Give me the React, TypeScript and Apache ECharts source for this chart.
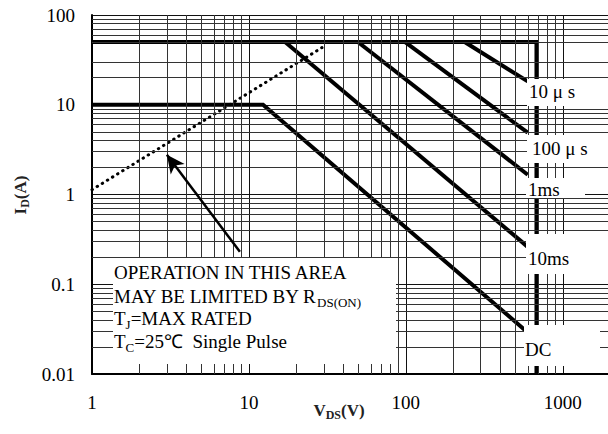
import { useEffect, useRef } from 'react';
import * as echarts from 'echarts';

// Minor grid positions (log decades)
const xMinorTicks = [2, 3, 4, 5, 6, 7, 8, 9, 20, 30, 40, 50, 60, 70, 80, 90, 200, 300, 400, 500, 600, 700, 800, 900];
const yMinorTicks = [
  0.02, 0.03, 0.04, 0.05, 0.06, 0.07, 0.08, 0.09,
  0.2, 0.3, 0.4, 0.5, 0.6, 0.7, 0.8, 0.9,
  2, 3, 4, 5, 6, 7, 8, 9,
  20, 30, 50, 60, 70, 80, 90,
];

// Safe operating area boundaries [VDS (V), ID (A)]
const idPulseLimit = [[1, 50], [680, 50], [680, 0.01]];
const line10us = [[237, 50], [598, 18.2]];
const line100us = [[99, 50], [598, 4.88]];
const line1ms = [[49.5, 50], [598, 1.66]];
const line10ms = [[17, 50], [598, 0.261]];
const lineDC = [[1, 10], [12.3, 10], [573, 0.031]];
const rdsOnLimit = [[1, 1.13], [29.2, 43.3]];
const arrowLine = [[8.76, 0.23], [3.0, 2.77]];

const SERIF = '"Liberation Serif", "Times New Roman", serif';

function thick(name: string, data: number[][]) {
  return {
    name,
    type: 'line',
    data,
    symbol: 'none',
    showSymbol: false,
    silent: true,
    z: 3,
    lineStyle: { color: '#000', width: 4, join: 'miter' },
  };
}

function box(x: number, y: number, w: number, h: number) {
  return { type: 'rect', z: 100, shape: { x, y, width: w, height: h }, style: { fill: '#fff' } };
}

function label(x: number, y: number, text: string) {
  return {
    type: 'text',
    z: 101,
    x,
    y,
    style: { text, fontFamily: SERIF, fontSize: 19, fill: '#000', verticalAlign: 'middle', align: 'left' },
  };
}

function richLine(x: number, y: number, text: string) {
  return {
    type: 'text',
    z: 101,
    x,
    y,
    style: {
      text,
      fill: '#000',
      verticalAlign: 'middle',
      align: 'left',
      rich: {
        a: { fontFamily: SERIF, fontSize: 19, fill: '#000', lineHeight: 26, verticalAlign: 'middle' },
        b: { fontFamily: SERIF, fontSize: 13, fill: '#000', verticalAlign: 'bottom' },
      },
    },
  };
}

const fmt = (v: number) => {
  const e = Math.log10(v);
  if (Math.abs(e - Math.round(e)) > 1e-6) return '';
  return String(Number(v.toPrecision(4)));
};

export default function App() {
  const ref = useRef<HTMLDivElement>(null);
  useEffect(() => {
    document.body.style.margin = '0';
    const chart = echarts.init(ref.current!, null, { renderer: 'svg' });
    const axisCommon = {
      type: 'log',
      logBase: 10,
      axisLine: { show: true, onZero: false, lineStyle: { color: '#000', width: 2 } },
      axisTick: { show: false },
      splitLine: { show: true, lineStyle: { color: '#111', width: 1 } },
      axisLabel: { formatter: fmt, fontFamily: SERIF, fontSize: 19, color: '#000', hideOverlap: false },
    };
    chart.setOption({
      animation: false,
      backgroundColor: '#fff',
      grid: { left: 92, top: 15, right: -2, bottom: 60, containLabel: false, outerBoundsMode: 'none' },
      xAxis: { ...axisCommon, min: 1, max: 2000, axisLabel: { ...axisCommon.axisLabel, margin: 19 } },
      yAxis: { ...axisCommon, min: 0.01, max: 100, axisLabel: { ...axisCommon.axisLabel, margin: 17 } },
      series: [
        {
          name: 'grid',
          type: 'line',
          data: [],
          z: 1,
          silent: true,
          markLine: {
            silent: true,
            symbol: ['none', 'none'],
            label: { show: false },
            emphasis: { disabled: true },
            lineStyle: { color: '#333', width: 1, type: 'solid' },
            data: [
              ...xMinorTicks.map((v) => ({ xAxis: v })),
              ...yMinorTicks.map((v) => ({ yAxis: v })),
            ],
          },
        },
        thick('IDpulse', idPulseLimit),
        thick('10us', line10us),
        thick('100us', line100us),
        thick('1ms', line1ms),
        thick('10ms', line10ms),
        thick('DC', lineDC),
        {
          name: 'RDS(on)',
          type: 'line',
          data: rdsOnLimit,
          symbol: 'none',
          silent: true,
          z: 4,
          lineStyle: { color: '#000', width: 3, type: [0.5, 5.5], cap: 'round' },
        },
        {
          name: 'arrow',
          type: 'line',
          data: [],
          z: 4,
          silent: true,
          markLine: {
            silent: true,
            label: { show: false },
            emphasis: { disabled: true },
            lineStyle: { color: '#000', width: 2.5, type: 'solid' },
            data: [
              [
                { coord: arrowLine[0], symbol: 'none' },
                { coord: arrowLine[1], symbol: 'arrow', symbolSize: [13, 18] },
              ],
            ],
          },
        },
      ],
      graphic: [
        box(527, 79, 90, 27),
        label(529, 91, '10 μ s'),
        box(527, 135, 90, 28),
        label(532, 148, '100 μ s'),
        box(526, 178, 59, 20),
        label(528, 189, '1ms'),
        box(526, 234, 90, 40),
        label(528, 258, '10ms'),
        box(524, 325, 76, 41),
        label(525, 349, 'DC'),
        box(113, 258, 283, 106),
        label(114, 272, 'OPERATION IN THIS AREA'),
        richLine(114, 296, '{a|MAY BE LIMITED BY R}{b|DS(ON)}'),
        richLine(114, 318, '{a|T}{b|J}{a|=MAX RATED}'),
        richLine(114, 341, '{a|T}{b|C}{a|=25℃  Single Pulse}'),
        {
          type: 'text',
          z: 101,
          x: 20,
          y: 195,
          rotation: Math.PI / 2,
          style: {
            text: '{a|I}{b|D}{a|(A)}',
            align: 'center',
            verticalAlign: 'middle',
            rich: {
              a: { fontFamily: SERIF, fontSize: 17, fontWeight: 'bold', fill: '#222', lineHeight: 22, verticalAlign: 'middle' },
              b: { fontFamily: SERIF, fontSize: 12, fontWeight: 'bold', fill: '#222', verticalAlign: 'bottom' },
            },
          },
        },
        {
          type: 'text',
          z: 101,
          x: 339,
          y: 410,
          style: {
            text: '{a|V}{b|DS}{a|(V)}',
            align: 'center',
            verticalAlign: 'middle',
            rich: {
              a: { fontFamily: SERIF, fontSize: 17, fontWeight: 'bold', fill: '#222', lineHeight: 22, verticalAlign: 'middle' },
              b: { fontFamily: SERIF, fontSize: 12, fontWeight: 'bold', fill: '#222', verticalAlign: 'bottom' },
            },
          },
        },
      ],
    });
    return () => chart.dispose();
  }, []);
  return <div ref={ref} style={{ width: 608, height: 434 }} />;
}
